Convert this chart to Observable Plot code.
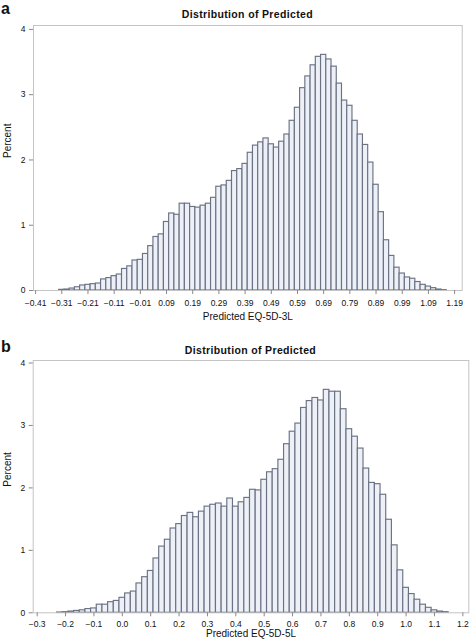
<!DOCTYPE html>
<html><head><meta charset="utf-8">
<script src="https://cdn.jsdelivr.net/npm/d3@7"></script>
<script src="https://cdn.jsdelivr.net/npm/@observablehq/plot@0.6"></script>
<style>
body{margin:0;background:#fff;}
#wrap{position:relative;width:472px;height:643px;overflow:hidden;font-family:"Liberation Sans",Arial,sans-serif;color:#111;}
.panel{position:absolute;left:0;}
.lab{position:absolute;left:1px;font-weight:bold;font-size:16px;line-height:18px;}
.title{position:absolute;width:300px;text-align:center;font-weight:bold;font-size:10.5px;line-height:12px;letter-spacing:0.35px;}
</style></head><body>
<div id="wrap">
  <div class="panel" id="pa" style="top:0"></div>
  <div class="panel" id="pb" style="top:322px"></div>
  <div class="lab" style="top:0px">a</div>
  <div class="lab" style="top:337.5px">b</div>
  <div class="title" id="ta" style="left:97.4px;top:7.5px"></div>
  <div class="title" id="tb" style="left:100.5px;top:343.5px"></div>
</div>
<script>
// ---- data ----
const binWidth = 0.02;
const yTicks = [0, 1, 2, 3, 4];
const titleText = "Distribution of Predicted";
const yLabel = "Percent";

// Panel a: EQ-5D-3L, bin midpoints from -0.31 step 0.02
const startA = -0.31;
const percentA = [
  0.01, 0.015, 0.03, 0.05, 0.077, 0.087, 0.097, 0.107, 0.17, 0.19, 0.22, 0.245, 0.33, 0.37, 0.46, 0.47,
  0.56, 0.68, 0.82, 0.86, 1.05, 1.18, 1.16, 1.33, 1.33, 1.28, 1.27, 1.30, 1.33, 1.42, 1.59, 1.61,
  1.68, 1.83, 1.86, 1.94, 2.11, 2.22, 2.27, 2.33, 2.24, 2.19, 2.28, 2.39, 2.60, 2.80, 3.10, 3.28,
  3.45, 3.58, 3.61, 3.54, 3.43, 3.17, 2.91, 2.83, 2.60, 2.39, 2.23, 1.96, 1.62, 1.20, 0.77, 0.53,
  0.35, 0.26, 0.20, 0.18, 0.13, 0.087, 0.06, 0.036, 0.015, 0.005
];
const ticksA = [-0.41, -0.31, -0.21, -0.11, -0.01, 0.09, 0.19, 0.29, 0.39, 0.49, 0.59, 0.69, 0.79, 0.89, 0.99, 1.09, 1.19];
const xLabelA = "Predicted EQ-5D-3L";

// Panel b: EQ-5D-5L, bin midpoints from -0.22 step 0.02
const startB = -0.22;
const percentB = [
  0.005, 0.01, 0.02, 0.03, 0.04, 0.06, 0.07, 0.13, 0.13, 0.17, 0.19,
  0.24, 0.31, 0.34, 0.47, 0.57, 0.67, 0.87, 1.06, 1.17, 1.35, 1.42, 1.55, 1.60, 1.53, 1.62,
  1.70, 1.73, 1.75, 1.70, 1.83, 1.70, 1.77, 1.84, 1.97, 1.96, 2.13, 2.25, 2.30, 2.45, 2.70,
  2.90, 3.03, 3.28, 3.39, 3.44, 3.40, 3.57, 3.54, 3.54, 3.26, 2.94, 2.82, 2.63, 2.31, 2.08,
  2.06, 1.89, 1.49, 1.08, 0.68, 0.40, 0.30, 0.21, 0.13, 0.08, 0.04, 0.02, 0.01
];
const ticksB = [-0.3, -0.2, -0.1, 0.0, 0.1, 0.2, 0.3, 0.4, 0.5, 0.6, 0.7, 0.8, 0.9, 1.0, 1.1, 1.2];
const xLabelB = "Predicted EQ-5D-5L";

// ---- chart ----
function bins(start, values) {
  return values.map((v, i) => {
    const c = start + i * binWidth;
    return {x1: c - binWidth / 2, x2: c + binWidth / 2, y: v};
  });
}

function panel({data, domainX, domainY, ticks, fmt, xlabel, height, mt, mb, ml, mr, labelDy, tickPad}) {
  return Plot.plot({
    width: 472, height,
    marginTop: mt, marginBottom: mb, marginLeft: ml, marginRight: mr,
    style: {fontFamily: "'Liberation Sans', Arial, sans-serif", fontSize: "8.5px", color: "#111", background: "transparent"},
    x: {domain: domainX},
    y: {domain: domainY},
    marks: [
      Plot.rectY(data, {x1: "x1", x2: "x2", y: "y", fill: "#edf0f6", stroke: "#6a7283", strokeWidth: 1.15}),
      Plot.frame({stroke: "#c4c4c4"}),
      Plot.axisX({ticks, tickFormat: fmt, tickSize: 4, tickPadding: tickPad, label: null, stroke: "#888", fill: "#111"}),
      Plot.axisY({ticks: yTicks, tickFormat: d3.format("d"), tickSize: 4, tickPadding: 4, label: null, stroke: "#888", fill: "#111"}),
      Plot.text([xlabel], {frameAnchor: "bottom", dy: labelDy, fontSize: 10, fill: "#111"}),
      Plot.text([yLabel], {frameAnchor: "left", dx: -25.5, rotate: -90, fontSize: 10, fill: "#111"})
    ]
  });
}

document.getElementById("pa").appendChild(panel({
  data: bins(startA, percentA),
  domainX: [-0.418, 1.219], domainY: [0, 4.06],
  ticks: ticksA, fmt: d3.format(".2f"), xlabel: xLabelA,
  height: 322, mt: 25, mb: 32, ml: 33, mr: 10.3, labelDy: 29, tickPad: 5.5
}));
document.getElementById("pb").appendChild(panel({
  data: bins(startB, percentB),
  domainX: [-0.314, 1.221], domainY: [0, 4.04],
  ticks: ticksB, fmt: d3.format(".1f"), xlabel: xLabelB,
  height: 321, mt: 38, mb: 30.7, ml: 32.7, mr: 3.7, labelDy: 24.5, tickPad: 4.5
}));
document.getElementById("ta").textContent = titleText;
document.getElementById("tb").textContent = titleText;
</script>
</body></html>
